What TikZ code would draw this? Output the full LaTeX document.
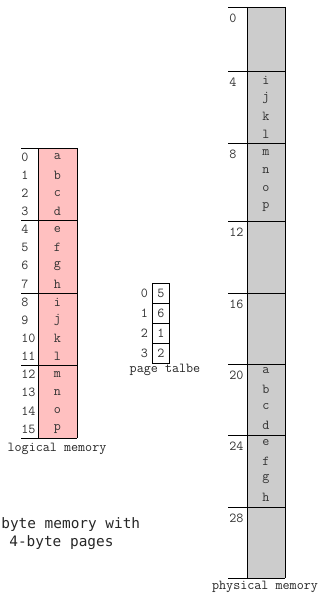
\documentclass[tikz,border=0pt]{standalone}
\usepackage{fontspec}
\newfontfamily\notefont{DejaVu Sans Mono}
\usepackage{tikz}
\definecolor{pagepink}{RGB}{255,192,192}
\definecolor{framegray}{RGB}{204,204,204}

\begin{document}
\begin{tikzpicture}[x=1pt, y=-1pt, line width=0.8pt,
  font=\fontsize{13.7}{15}\selectfont\ttfamily,
  idx/.style={anchor=west, inner sep=0pt, text=black!80},
  cell/.style={inner sep=0pt, text=black!80},
  ptab/.style={draw, minimum width=16.5pt, minimum height=20pt, inner sep=0pt, text=black!80},
  caption/.style={inner sep=0pt, text=black!85}]
  \useasboundingbox (0,0) rectangle (321,594);

  % logical memory
  \fill[pagepink] (38.5,148) rectangle (77,438);
  \foreach \c [count=\k from 0] in {a,b,c,d,e,f,g,h,i,j,k,l,m,n,o,p} {
    \node[idx]  (lidx\k) at (21,157+18.125*\k) {\k};
    \node[cell] (lval\k) at (57.5,157+18.125*\k) {\c};
  }
  \foreach \k in {0,...,4}
    \draw (21,148+72.5*\k) -- (77,148+72.5*\k);
  \draw (38.5,148) -- (38.5,438);
  \draw (77,148) -- (77,438);
  \node[caption] (lcap) at (57,449) {logical memory};

  % page table
  \foreach \v [count=\k from 0] in {5,6,1,2} {
    \node[ptab] (pt\k) at (161,293+20*\k) {\v};
    \node[cell] (ptidx\k) at (144.5,293+20*\k) {\k};
  }
  \node[caption] (ptcap) at (165,370) {page talbe};

  % physical memory
  \fill[framegray] (247,7) rectangle (285,578);
  \foreach \y/\n in {7/0,71/4,143/8,221/12,293/16,364/20,435/24,507/28} {
    \draw (228,\y) -- (285,\y);
    \node[idx] (fidx\n) at (229,\y+11) {\n};
  }
  \draw (228,578) -- (285,578);
  \draw (247,7) -- (247,578);
  \draw (285,7) -- (285,578);
  \foreach \c [count=\k from 0] in {i,j,k,l}
    \node[cell] (fb\k) at (266,80+18*\k) {\c};
  \foreach \c [count=\k from 0] in {m,n,o,p}
    \node[cell] (fc\k) at (266,153+18*\k) {\c};
  \foreach \c [count=\k from 0] in {a,b,c,d}
    \node[cell] (ff\k) at (266,371+18*\k) {\c};
  \foreach \c [count=\k from 0] in {e,f,g,h}
    \node[cell] (fg\k) at (266,443+18*\k) {\c};
  \node[caption] (fcap) at (265,587) {physical memory};

  % note
  \node[caption, anchor=west, font=\fontsize{14.4}{16}\notefont] (note1) at (1,525) {byte memory with};
  \node[caption, anchor=west, font=\fontsize{14.4}{16}\notefont] (note2) at (9,543) {4-byte pages};
\end{tikzpicture}
\end{document}
